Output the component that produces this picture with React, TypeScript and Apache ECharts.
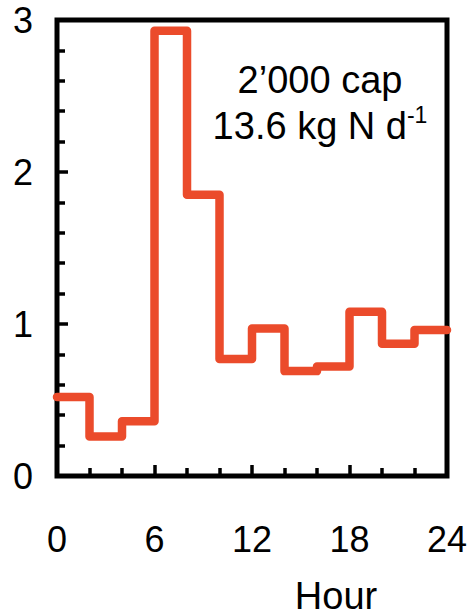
import React, { useEffect, useRef } from "react";
import * as echarts from "echarts";

const hours = [0, 2, 4, 6, 8, 10, 12, 14, 16, 18, 20, 22, 24];
const values = [0.52, 0.26, 0.36, 2.93, 1.85, 0.77, 0.97, 0.69, 0.72, 1.08, 0.87, 0.96];
const xTicks = [0, 6, 12, 18, 24];
const yTicks = [0, 1, 2, 3];
const noteLine1 = "2’000 cap";
const noteLine2 = "13.6 kg N d";
const noteSup = "-1";
const xName = "Hour";

const FONT = "'Liberation Sans', Arial, Helvetica, sans-serif";

export default function App() {
  const ref = useRef<HTMLDivElement>(null);
  useEffect(() => {
    if (!ref.current) return;
    const chart = echarts.init(ref.current, null, { renderer: "svg" });
    const data = hours.map((h, i) => [h, values[Math.min(i, values.length - 1)]]);
    chart.setOption({
      animation: false,
      backgroundColor: "#ffffff",
      grid: {
        left: 57,
        right: 27,
        top: 20,
        bottom: 138,
        show: true,
        borderColor: "#000",
        borderWidth: 5,
        backgroundColor: "transparent",
      },
      xAxis: {
        type: "value",
        min: xTicks[0],
        max: xTicks[xTicks.length - 1],
        interval: 6,
        axisLine: { show: false },
        axisTick: { show: true, inside: true, length: 11, lineStyle: { color: "#000", width: 3.5 } },
        minorTick: { show: true, splitNumber: 3, length: 8, lineStyle: { color: "#000", width: 3.5 } },
        splitLine: { show: false },
        axisLabel: { fontSize: 36, color: "#000", fontFamily: FONT, margin: 45 },
      },
      yAxis: {
        type: "value",
        min: yTicks[0],
        max: yTicks[yTicks.length - 1],
        interval: 1,
        axisLine: { show: false },
        axisTick: { show: true, inside: true, length: 11, lineStyle: { color: "#000", width: 3.5 } },
        minorTick: { show: true, splitNumber: 5, length: 8, lineStyle: { color: "#000", width: 3.5 } },
        splitLine: { show: false },
        axisLabel: { fontSize: 36, color: "#000", fontFamily: FONT, margin: 24 },
      },
      graphic: [
        {
          type: "text",
          x: 320,
          y: 80,
          style: {
            text: noteLine1,
            fontSize: 38,
            fontFamily: FONT,
            fill: "#000",
            align: "center",
            verticalAlign: "middle",
          },
        },
        {
          type: "text",
          x: 320,
          y: 124,
          style: {
            text: "{n|" + noteLine2 + "}{s|" + noteSup + "}",
            fontFamily: FONT,
            fill: "#000",
            align: "center",
            verticalAlign: "middle",
            rich: {
              n: { fontSize: 38, lineHeight: 42, fontFamily: FONT, fill: "#000", verticalAlign: "bottom" },
              s: { fontSize: 23, lineHeight: 23, fontFamily: FONT, fill: "#000", verticalAlign: "top" },
            },
          },
        },
        {
          type: "text",
          x: 336,
          y: 596,
          style: {
            text: xName,
            fontSize: 38,
            fontFamily: FONT,
            fill: "#000",
            align: "center",
            verticalAlign: "middle",
          },
        },
      ],
      series: [
        {
          type: "line",
          step: "end",
          data,
          symbol: "none",
          clip: false,
          lineStyle: { color: "#EB4B2B", width: 8.5, cap: "round", join: "round" },
        },
      ],
    });
    return () => chart.dispose();
  }, []);
  return (
    <div
      ref={ref}
      style={{ position: "absolute", left: 0, top: 0, width: 474, height: 614 }}
    />
  );
}
